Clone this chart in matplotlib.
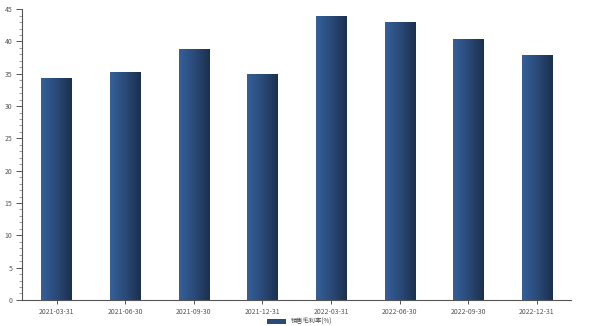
import matplotlib
matplotlib.use("Agg")
import matplotlib.pyplot as plt
import numpy as np
from matplotlib.colors import LinearSegmentedColormap
from matplotlib.patches import Patch

plt.rcParams["font.family"] = ["Noto Sans CJK SC", "DejaVu Sans"]

dates = ["2021-03-31", "2021-06-30", "2021-09-30", "2021-12-31",
         "2022-03-31", "2022-06-30", "2022-09-30", "2022-12-31"]
margin = [34.3, 35.3, 38.9, 34.9, 43.9, 43.0, 40.4, 37.9]
series_name = "销售毛利率(%)"

fig = plt.figure(figsize=(6, 3.26), dpi=100)
ax = fig.add_axes([0.037, 0.08, 0.915, 0.892])

x = np.arange(len(dates))
width = 0.44
cmap = LinearSegmentedColormap.from_list("bar", ["#34609a", "#2a4a78", "#1c2f4c"])
grad = np.linspace(0, 1, 256).reshape(1, -1)

bars = ax.bar(x, margin, width=width, color="none", edgecolor="none")
for b in bars:
    x0, y0 = b.get_x(), b.get_y()
    im = ax.imshow(grad, cmap=cmap, aspect="auto",
                   extent=[x0, x0 + b.get_width(), y0, y0 + b.get_height()],
                   zorder=2)
    im.set_clip_path(b)

ax.set_xlim(-0.5, len(dates) - 0.5)
ax.set_ylim(0, 45)
ax.set_xticks(x)
ax.set_xticklabels(dates)
ax.set_yticks(np.arange(0, 46, 5))
ax.set_yticks(np.arange(0, 46, 1), minor=True)

for s in ["top", "right"]:
    ax.spines[s].set_visible(False)
for s in ["left", "bottom"]:
    ax.spines[s].set_color("#555555")
    ax.spines[s].set_linewidth(0.8)

ax.tick_params(axis="both", labelsize=5, colors="#555555", labelcolor="#555555")
ax.tick_params(axis="y", which="major", length=4, width=0.7, pad=3)
ax.tick_params(axis="y", which="minor", length=2, width=0.5, color="#777777")
ax.tick_params(axis="x", which="major", length=3, width=0.7, pad=3)

handle = Patch(facecolor="#2a4a78", edgecolor="none")
fig.legend([handle], [series_name], loc="center", bbox_to_anchor=(0.5, 0.014),
           frameon=False, fontsize=4.5, handlelength=3, handleheight=0.8,
           labelcolor="#444444", borderpad=0, borderaxespad=0)

fig.savefig("out.png", dpi=100)
